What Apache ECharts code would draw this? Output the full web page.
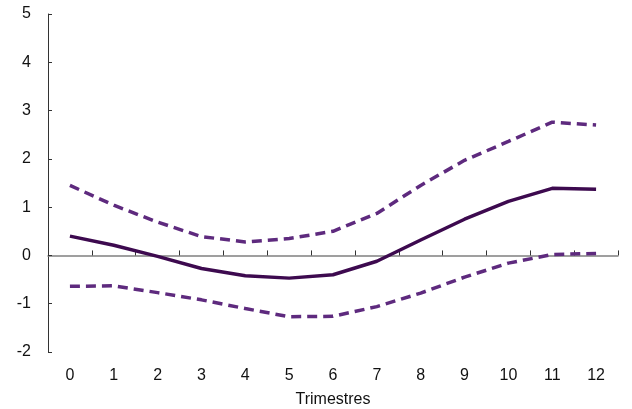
<!DOCTYPE html>
<html><head><meta charset="utf-8">
<script src="https://cdn.jsdelivr.net/npm/echarts@6/dist/echarts.min.js"></script>
<style>html,body{margin:0;padding:0;background:#fff}#c{width:632px;height:409px}</style>
</head><body><div id="c"></div>
<script>
var categories = ['0','1','2','3','4','5','6','7','8','9','10','11','12'];
var central = [0.40, 0.21, -0.02, -0.27, -0.42, -0.47, -0.40, -0.12, 0.32, 0.75, 1.12, 1.39, 1.37];
var upper = [1.45, 1.04, 0.69, 0.39, 0.28, 0.35, 0.50, 0.87, 1.45, 1.97, 2.36, 2.76, 2.70];
var lower = [-0.64, -0.63, -0.77, -0.92, -1.10, -1.27, -1.26, -1.06, -0.78, -0.45, -0.16, 0.02, 0.04];
var yTicks = [-2, -1, 0, 1, 2, 3, 4, 5];

var font = 'Liberation Sans, Arial, sans-serif';
var chart = echarts.init(document.getElementById('c'));
chart.setOption({
  animation: false,
  grid: {left: 48, right: 14, top: 14, bottom: 57, containLabel: false, outerBoundsMode: 'none'},
  xAxis: [{
    type: 'category', data: categories, position: 'bottom',
    axisLine: {show: false, onZero: false}, axisTick: {show: false},
    axisLabel: {color: '#111', fontSize: 16, fontFamily: font, margin: 16},
    name: 'Trimestres', nameLocation: 'middle', nameGap: 40,
    nameTextStyle: {color: '#111', fontSize: 16, fontFamily: font}
  }, {
    type: 'category', data: categories, position: 'bottom',
    axisLine: {show: true, onZero: true, lineStyle: {color: '#808080', width: 1.5}},
    axisTick: {show: true, inside: true, length: 5, lineStyle: {color: '#333'}},
    axisLabel: {show: false}
  }],
  yAxis: {
    type: 'value', min: -2, max: 5, interval: 1,
    axisLine: {show: true, lineStyle: {color: '#333', width: 1}},
    axisTick: {show: true, inside: true, length: 4, lineStyle: {color: '#333'}},
    splitLine: {show: false},
    axisLabel: {color: '#111', fontSize: 16, fontFamily: font, margin: 17,
      formatter: function (v) { return yTicks.indexOf(v) >= 0 ? String(v) : ''; }}
  },
  series: [{
    type: 'line', data: upper, xAxisIndex: 0, symbol: 'none',
    lineStyle: {color: '#5E2A7E', width: 3.5, type: [10, 6]}
  }, {
    type: 'line', data: lower, xAxisIndex: 0, symbol: 'none',
    lineStyle: {color: '#5E2A7E', width: 3.5, type: [10, 6]}
  }, {
    type: 'line', data: central, xAxisIndex: 0, symbol: 'none',
    lineStyle: {color: '#3D0A4F', width: 3.5}
  }]
});
</script></body></html>
